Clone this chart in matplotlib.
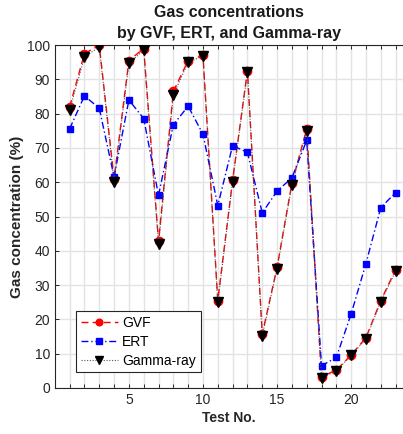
import matplotlib.pyplot as plt
import numpy as np

plt.rcParams["font.family"] = ["Liberation Sans", "DejaVu Sans"]

test_no = list(range(1, 24))
gvf = [82, 97.5, 100, 61, 95.5, 99, 42.8, 86.5, 95.5, 97, 25.5, 60.6, 92.5,
       15.7, 35.2, 59.7, 75.5, 3.3, 5.2, 9.6, 14.7, 25.5, 34.5]
ert = [75.6, 85.2, 81.6, 61.6, 84, 78.6, 56.2, 76.8, 82.2, 74, 53.2, 70.7, 68.7,
       51.1, 57.4, 61.3, 72.2, 6.5, 8.9, 21.6, 36.3, 52.6, 57]
gamma = [81, 96.5, 99.5, 60.2, 94.7, 98.5, 42, 85.5, 95, 96.8, 25, 60.2, 92.2,
         15.2, 34.8, 59.2, 75, 3, 5, 9.5, 14.3, 25.2, 34]

fig = plt.figure(figsize=(4.03, 4.34), dpi=100)
ax = fig.add_axes([0.136, 0.106, 0.864, 0.79])

ax.plot(test_no, gvf, color="red", linestyle=(0, (5, 3)), linewidth=1,
        marker="o", markersize=6, markerfacecolor="red", markeredgecolor="red",
        label="GVF", zorder=3)
ax.plot(test_no, ert, color="blue", linestyle=(0, (5, 2, 1, 2)), linewidth=1,
        marker="s", markersize=5, markerfacecolor="blue", markeredgecolor="blue",
        label="ERT", zorder=3)
ax.plot(test_no, gamma, color="#555555", linestyle=(0, (1, 1.5)), linewidth=0.8,
        marker="v", markersize=7, markerfacecolor="black", markeredgecolor="black",
        label="Gamma-ray", zorder=4)

ax.set_xlim(0, 23.5)
ax.set_ylim(0, 100)
ax.set_xticks([5, 10, 15, 20])
ax.set_xticks(np.arange(1, 24), minor=True)
ax.set_yticks(np.arange(0, 101, 10))
ax.grid(True, which="both", axis="x", color="#e3e3e3", linewidth=1)
ax.grid(True, which="major", axis="y", color="#e3e3e3", linewidth=1)
ax.set_axisbelow(True)

ax.tick_params(axis="both", which="both", direction="in", top=True,
               colors="#262626", labelsize=10, length=3, width=0.7)
ax.tick_params(axis="y", which="both", right=False)
for side in ["left", "bottom", "top"]:
    ax.spines[side].set_color("#262626")
    ax.spines[side].set_linewidth(0.8)
ax.spines["right"].set_visible(False)

ax.set_xlabel("Test No.", fontsize=10, fontweight="bold", color="#262626", labelpad=3)
ax.set_ylabel("Gas concentration (%)", fontsize=11, fontweight="bold",
              color="#262626", labelpad=2)
ax.set_title("Gas concentrations\nby GVF, ERT, and Gamma-ray", fontsize=11.5,
             fontweight="bold", color="#1a1a1a", linespacing=1.5, pad=5)

leg = ax.legend(loc="lower left", bbox_to_anchor=(0.04, 0.025), fontsize=10,
                fancybox=False, framealpha=1, edgecolor="#262626",
                handlelength=2.7, handletextpad=0.3, markerscale=0.8,
                borderpad=0.35, labelspacing=0.35)
leg.get_frame().set_linewidth(0.8)

fig.savefig("out.png", dpi=100)
